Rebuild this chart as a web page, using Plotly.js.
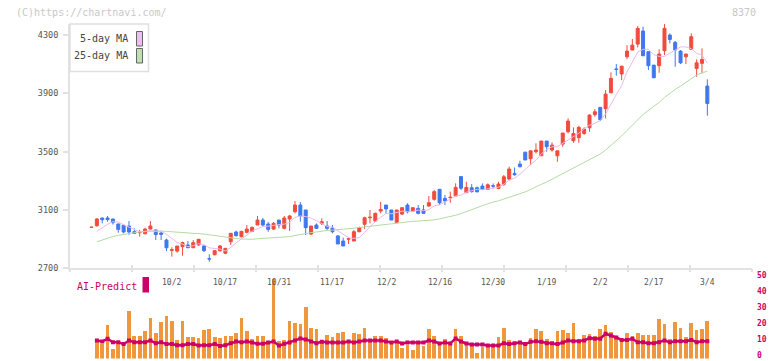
<!DOCTYPE html>
<html>
<head>
<meta charset="utf-8">
<script src="https://cdn.plot.ly/plotly-3.0.1.min.js"></script>
<style>html,body{margin:0;padding:0;background:#fff;}#chart{width:772px;height:361px;}</style>
</head>
<body>
<div id="chart"></div>
<script>
// ---- data (trading-day index 0..115) ----
const openP = [2980,2992,3045,3045,3038,3004,2995,2990,2951,2944,2937,2969,2963,2942,2894,2823,2818,2848,2860,2841,2860,2853,2766,2793,2821,2803,2882,2949,2917,2947,2953,2997,3031,3004,2969,3031,2974,3038,3088,3134,3100,2935,2997,3008,2990,2976,2922,2887,2899,2887,2951,3002,3047,3024,3093,3134,3100,3015,3072,3134,3093,3111,3100,3127,3173,3242,3180,3185,3196,3329,3219,3253,3253,3264,3241,3266,3248,3276,3312,3351,3415,3497,3452,3500,3472,3573,3511,3472,3552,3637,3575,3596,3625,3664,3754,3804,3795,3904,4067,4033,4151,4197,4238,4328,4186,4094,4090,4193,4300,4250,4190,4151,4202,4071,4106,3950];
const highP = [2982,3045,3047,3059,3040,3006,2997,3024,2974,2963,2979,3024,2965,2958,2903,2844,2853,2883,2887,2894,2899,2855,2796,2825,2860,2837,2940,2958,2958,2997,2985,3059,3045,3017,3017,3031,3059,3066,3162,3155,3100,2990,3008,3043,3024,2997,2928,2910,2910,2963,2985,3054,3100,3082,3155,3134,3100,3100,3116,3146,3116,3134,3134,3196,3237,3242,3203,3226,3283,3329,3294,3278,3260,3282,3282,3282,3294,3340,3397,3392,3438,3497,3506,3557,3573,3573,3564,3506,3628,3728,3667,3676,3667,3756,3792,3804,3923,4044,4101,4087,4231,4273,4362,4357,4186,4094,4202,4376,4312,4259,4197,4170,4312,4133,4209,3996];
const lowP = [2980,2985,3008,3020,3000,2944,2940,2930,2935,2917,2933,2967,2894,2894,2818,2780,2807,2786,2841,2841,2855,2812,2745,2789,2814,2796,2860,2917,2912,2940,2949,2997,2990,2951,2963,2974,2967,2956,3077,3020,2928,2928,2970,2997,2963,2940,2867,2853,2867,2887,2947,2970,3008,3020,3077,3077,3031,3008,3066,3077,3090,3070,3075,3123,3164,3134,3134,3150,3196,3237,3219,3219,3220,3237,3237,3248,3243,3266,3301,3335,3392,3443,3408,3488,3472,3500,3500,3431,3534,3625,3561,3561,3616,3637,3740,3710,3728,3904,4021,3991,4135,4197,4215,4158,4060,4007,4042,4163,4243,4083,4101,4101,4202,4014,4037,3747];
const closeP = [2982,3038,3033,3034,3013,2967,2949,2949,2940,2946,2969,2990,2931,2933,2841,2827,2853,2876,2841,2876,2899,2821,2764,2821,2853,2837,2940,2924,2953,2969,2981,3031,2997,2967,3008,2997,3045,3059,3134,3059,2979,2990,2974,3020,2974,2951,2867,2853,2904,2951,2979,3047,3050,3077,3104,3107,3031,3100,3116,3088,3116,3077,3077,3150,3226,3150,3162,3187,3255,3249,3255,3226,3225,3241,3273,3264,3278,3328,3381,3342,3397,3443,3506,3511,3573,3534,3545,3506,3628,3710,3625,3667,3655,3751,3774,3721,3895,4003,4065,4087,4190,4231,4346,4158,4090,4007,4170,4346,4270,4197,4110,4170,4289,4110,4133,3831];
const ma5 = [null,2953,2980,3002,3020,3017,2999,2982,2964,2950,2951,2959,2955,2954,2933,2904,2877,2866,2848,2855,2869,2863,2840,2836,2832,2819,2843,2875,2901,2925,2953,2972,2986,2989,2997,3000,3003,3015,3049,3059,3055,3044,3027,3004,2987,2982,2957,2933,2910,2905,2911,2947,2986,3021,3051,3077,3074,3084,3092,3088,3090,3099,3095,3102,3129,3136,3153,3175,3196,3201,3222,3234,3242,3239,3244,3246,3256,3277,3305,3319,3345,3378,3414,3440,3486,3513,3534,3534,3557,3585,3603,3627,3657,3682,3694,3714,3759,3829,3892,3954,4048,4115,4184,4202,4203,4166,4154,4154,4177,4198,4219,4219,4207,4175,4162,4107];
const ma25 = [null,2882,2895,2910,2918,2926,2933,2940,2946,2950,2954,2956,2956,2955,2953,2951,2949,2947,2945,2943,2940,2935,2930,2924,2918,2912,2908,2904,2901,2899,2899,2903,2905,2906,2908,2909,2911,2917,2925,2933,2939,2945,2949,2956,2960,2962,2964,2967,2971,2975,2980,2985,2990,2995,3000,3005,3005,3009,3015,3018,3023,3024,3025,3026,3032,3039,3046,3055,3064,3075,3087,3102,3116,3130,3143,3154,3163,3175,3187,3196,3208,3224,3241,3256,3276,3292,3311,3328,3347,3367,3386,3406,3425,3445,3466,3484,3511,3542,3575,3608,3645,3683,3723,3755,3784,3809,3838,3872,3902,3927,3950,3975,4006,4026,4042,4051];
const volume = [null,10.3,9.1,20.8,6.0,9.1,10.3,29.5,14.0,14.0,17.1,25.2,15.9,22.7,26.4,23.3,11.5,23.3,13.4,13.4,12.4,17.7,18.4,13.4,12.4,14.0,14.0,15.9,25.2,17.1,12.0,14.0,14.0,10.9,49.3,10.9,11.5,23.3,22.1,21.4,32.0,19.0,18.4,10.3,14.6,13.4,15.9,16.5,11.5,15.9,15.3,19.0,11.5,14.0,14.0,12.8,10.9,10.3,6.6,8.5,5.4,10.3,7.8,18.4,14.0,9.1,12.2,8.5,18.4,14.0,9.7,8.5,3.5,7.2,8.5,7.2,13.4,19.0,11.5,9.1,10.3,9.1,12.8,18.4,17.1,12.2,9.1,17.1,17.7,15.9,22.1,10.3,14.6,15.3,14.0,18.4,20.8,16.5,14.0,11.5,15.9,14.0,15.9,14.6,14.6,14.6,24.5,21.4,12.2,22.7,19.0,13.4,22.1,17.7,18.4,23.3];
const aiPredict = [null,11.1,10.5,12.2,10.1,10.1,8.9,11.1,10.1,10.1,10.1,11.1,9.5,10.1,8.9,8.9,8.2,8.2,8.9,8.9,8.0,8.2,8.2,8.9,7.8,8.2,9.5,10.5,10.1,10.5,9.9,9.1,9.1,9.9,10.5,8.0,9.1,9.9,11.1,12.4,11.8,10.5,9.5,10.3,9.9,9.9,9.9,9.9,10.5,9.9,10.5,11.1,11.1,11.1,11.1,10.5,9.9,10.5,9.3,9.9,9.9,9.9,9.9,11.1,10.5,9.3,9.9,9.3,12.4,10.5,9.3,8.7,8.7,8.7,8.0,8.0,8.0,9.5,8.9,9.5,9.9,8.9,10.3,10.7,10.3,9.5,9.5,8.9,9.9,11.1,10.7,10.7,11.1,12.6,12.2,12.2,15.3,14.2,13.0,11.5,11.5,12.2,10.1,10.1,9.5,9.5,10.1,11.1,10.1,10.7,10.7,10.7,11.5,10.1,10.7,10.7];
const labelIdx = [15,25,35,45,55,65,75,85,95,105,115];
const labelText = ['10/2','10/17','10/31','11/17','12/2','12/16','12/30','1/19','2/2','2/17','3/4'];
const priceTicks = [2700,3100,3500,3900,4300];
const volTicks = [0,10,20,30,40,50];

// ---- layout helpers (pixel -> paper) ----
const W = 772, H = 361;
const px = v => v / W;
const py = v => 1 - v / H;
const idx = openP.map((_, i) => i);
const X0 = 70, X1 = 752, firstPx = 91.5, stepPx = 5.355;
const xr = [(X0 - firstPx) / stepPx, (X1 - firstPx) / stepPx];
const gridTicks = [];
for (let k = 0; k <= 11; k++) gridTicks.push(xr[0] + k * (xr[1] - xr[0]) / 11);

const RED = '#f04c3c', BLUE = '#3f78ee', ORANGE = '#f0963c', CRIMSON = '#cc0066';
const MONO = 'DejaVu Sans Mono, Liberation Mono, monospace';

const traces = [
  {type:'scatter', mode:'lines', x:idx, y:ma25, line:{color:'#b2dca2', width:1}, xaxis:'x', yaxis:'y', hoverinfo:'skip'},
  {type:'scatter', mode:'lines', x:idx, y:ma5, line:{color:'#ecb8ec', width:1}, xaxis:'x', yaxis:'y', hoverinfo:'skip'},
  {type:'candlestick', x:idx, open:openP, high:highP, low:lowP, close:closeP, xaxis:'x', yaxis:'y',
   whiskerwidth:0,
   increasing:{line:{color:RED, width:1}, fillcolor:RED},
   decreasing:{line:{color:BLUE, width:1}, fillcolor:BLUE}},
  {type:'bar', x:idx, y:volume, width:0.69, marker:{color:ORANGE, line:{width:0}}, xaxis:'x2', yaxis:'y2'},
  {type:'scatter', mode:'lines+markers', x:idx, y:aiPredict, line:{color:CRIMSON, width:2.5},
   marker:{symbol:'square', size:4, color:CRIMSON}, xaxis:'x2', yaxis:'y2'}
];

const annotations = [
  {text:'(C)https://chartnavi.com/', xref:'paper', yref:'paper', x:px(14), y:py(12), xanchor:'left', yanchor:'middle', showarrow:false, font:{family:MONO, size:10, color:'#c8c8c8'}},
  {text:'8370', xref:'paper', yref:'paper', x:px(758), y:py(12), xanchor:'right', yanchor:'middle', showarrow:false, font:{family:MONO, size:10, color:'#c8c8c8'}},
  {text:'5-day MA', xref:'paper', yref:'paper', x:px(130), y:py(39), xanchor:'right', yanchor:'middle', showarrow:false, font:{family:MONO, size:10, color:'#444'}},
  {text:'25-day MA', xref:'paper', yref:'paper', x:px(130), y:py(56), xanchor:'right', yanchor:'middle', showarrow:false, font:{family:MONO, size:10, color:'#444'}},
  {text:'AI-Predict', xref:'paper', yref:'paper', x:px(75), y:py(286), xanchor:'left', yanchor:'middle', showarrow:false, font:{family:MONO, size:10, color:CRIMSON}}
];
labelIdx.forEach((d, i) => annotations.push({
  text: labelText[i], xref:'x', yref:'paper', x:d, y:py(282), xanchor:'center', yanchor:'middle',
  showarrow:false, font:{family:MONO, size:8, color:'#555'}
}));

const shapes = [
  {type:'rect', xref:'paper', yref:'paper', x0:px(70), x1:px(148.5), y0:py(24), y1:py(71.5), line:{color:'#e0e0e0', width:1.5}, fillcolor:'#fff', layer:'above'},
  {type:'rect', xref:'paper', yref:'paper', x0:px(136.5), x1:px(142.5), y0:py(31.5), y1:py(46), line:{color:'#666', width:1}, fillcolor:'#efbdef', layer:'above'},
  {type:'rect', xref:'paper', yref:'paper', x0:px(136.5), x1:px(142.5), y0:py(48.5), y1:py(63), line:{color:'#666', width:1}, fillcolor:'#bfe0b2', layer:'above'},
  {type:'rect', xref:'paper', yref:'paper', x0:px(142.5), x1:px(149), y0:py(277), y1:py(292.5), line:{width:0}, fillcolor:CRIMSON, layer:'above'}
];

const layout = {
  width:W, height:H, margin:{l:0, r:0, t:0, b:0},
  paper_bgcolor:'#fff', plot_bgcolor:'#fff', showlegend:false,
  boxgap:0.3, boxgroupgap:0.2, bargap:0,
  xaxis:{domain:[px(X0), px(X1)], range:xr, anchor:'y', showgrid:false, zeroline:false,
    showline:true, linecolor:'#e2e2e2', linewidth:2, ticks:'inside', ticklen:3, tickcolor:'#e2e2e2', tickwidth:2,
    tickvals:gridTicks, showticklabels:false, rangeslider:{visible:false}, fixedrange:true},
  xaxis3:{overlaying:'x', range:xr, anchor:'y', showgrid:false, zeroline:false, showline:false,
    ticks:'outside', ticklen:3, tickcolor:'#e2e2e2', tickwidth:2, tickvals:gridTicks, showticklabels:false},
  yaxis:{domain:[py(268.3), py(24)], range:[2700, 4376], anchor:'x', showgrid:false, zeroline:false,
    showline:true, linecolor:'#e2e2e2', linewidth:2, ticks:'outside', ticklen:5, tickcolor:'#e2e2e2', tickwidth:2,
    tickvals:priceTicks, ticktext:priceTicks.map(String), tickfont:{family:MONO, size:8.5, color:'#555'}, ticklabelstandoff:3},
  xaxis2:{domain:[px(X0), px(X1)], range:xr, anchor:'y2', visible:false},
  yaxis2:{domain:[py(358.5), py(277.7)], range:[0, 50], anchor:'x2', side:'right', showgrid:false, zeroline:false,
    showline:false, ticks:'', tickvals:volTicks, ticktext:volTicks.map(String), ticklabeloverflow:'allow',
    ticklabelstandoff:4, ticklabelshift:-3, tickfont:{family:MONO, size:8, color:CRIMSON, weight:'bold'}},
  annotations, shapes
};
// invisible trace to activate the overlay tick axis
traces.push({type:'scatter', x:[xr[0]], y:[2700], xaxis:'x3', yaxis:'y', mode:'markers', marker:{opacity:0}, hoverinfo:'skip'});

Plotly.newPlot('chart', traces, layout, {displayModeBar:false, staticPlot:true});
</script>
</body>
</html>
